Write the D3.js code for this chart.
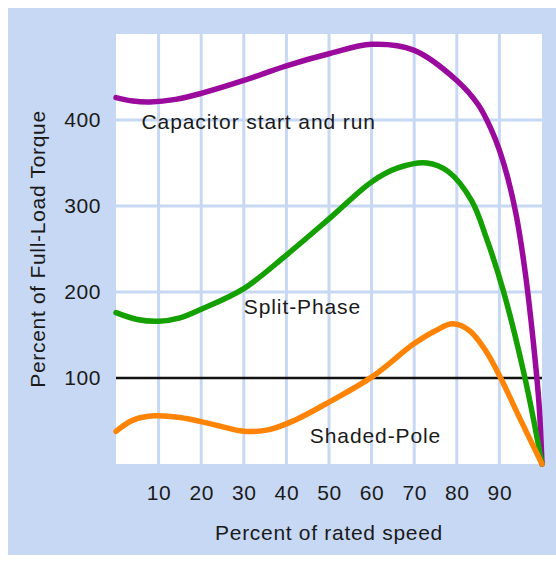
<!DOCTYPE html>
<html>
<head>
<meta charset="utf-8">
<script src="https://cdn.jsdelivr.net/npm/d3@7"></script>
<style>
  body { margin: 0; background: #fff; }
  text { font-family: "Liberation Sans", Arial, sans-serif; fill: #1a1a1a; }
</style>
</head>
<body>
<svg id="chart"></svg>
<script>
// torque curves (percent of rated speed -> percent of full-load torque)
var capacitorX = [0, 4, 8, 14, 20, 30, 40, 50, 60, 70, 80, 85, 88, 90, 92, 94, 96, 98, 99.3, 100];
var capacitorY = [426, 422, 421, 424, 431, 446, 463, 477, 488, 481, 446, 418, 390, 365, 332, 288, 225, 140, 70, 0];

var splitX = [0, 5, 10, 15, 20, 30, 40, 50, 60, 66, 73, 78, 83.5, 87, 91, 96, 100];
var splitY = [176, 168, 166, 170, 180, 204, 243, 285, 328, 344, 350, 340, 306, 262, 200, 100, 0];

var shadedX = [0, 4, 9, 15, 22, 30, 36, 42, 50, 60, 70, 75, 79, 83, 87, 90.3, 95, 100];
var shadedY = [38, 51, 56, 54, 47, 38, 40, 51, 72, 101, 140, 155, 163, 155, 130, 100, 51, 0];

var xTicks = [10, 20, 30, 40, 50, 60, 70, 80, 90];
var yTicks = [100, 200, 300, 400];
var refLine = 100;

var curveNames = ["Capacitor start and run", "Split-Phase", "Shaded-Pole"];

var width = 556, height = 561;
var margin = { top: 34, right: 14, bottom: 97, left: 116 };

var svg = d3.select("#chart").attr("width", width).attr("height", height);

// light blue card behind everything
svg.append("rect")
    .attr("x", 8).attr("y", 8)
    .attr("width", width - 8).attr("height", height - 14)
    .attr("fill", "#c7d8f4");

var x = d3.scaleLinear().domain([0, 100]).range([margin.left, width - margin.right]);
var y = d3.scaleLinear().domain([0, 500]).range([height - margin.bottom, margin.top]);

svg.append("rect")
    .attr("x", x(0)).attr("y", y(500))
    .attr("width", x(100) - x(0)).attr("height", y(0) - y(500))
    .attr("fill", "#fff");

// grid
svg.append("g").selectAll("line")
    .data(xTicks).enter().append("line")
    .attr("x1", d => x(d)).attr("x2", d => x(d))
    .attr("y1", y(0)).attr("y2", y(500))
    .attr("stroke", "#c7d8f4").attr("stroke-width", 3);

svg.append("g").selectAll("line")
    .data(yTicks.filter(d => d != refLine)).enter().append("line")
    .attr("x1", x(0)).attr("x2", x(100))
    .attr("y1", d => y(d)).attr("y2", d => y(d))
    .attr("stroke", "#c7d8f4").attr("stroke-width", 3);

svg.append("line")
    .attr("x1", x(0)).attr("x2", x(100))
    .attr("y1", y(refLine)).attr("y2", y(refLine))
    .attr("stroke", "#111").attr("stroke-width", 2.5);

// axes (labels only, no domain or ticks)
var xAxis = svg.append("g")
    .attr("transform", `translate(0, ${y(0)})`)
    .call(d3.axisBottom(x).tickValues(xTicks).tickSize(0).tickPadding(21));
var yAxis = svg.append("g")
    .attr("transform", `translate(${x(0)}, 0)`)
    .call(d3.axisLeft(y).tickValues(yTicks).tickSize(0).tickPadding(15));
[xAxis, yAxis].forEach(a => {
    a.select(".domain").remove();
    a.selectAll("text").style("font-size", "21px").attr("fill", "#1a1a1a")
        .style("letter-spacing", "0.6px")
        .style("font-family", "'Liberation Sans', Arial, sans-serif");
});

var series = [
    { xs: capacitorX, ys: capacitorY, color: "#9a0a9c" },
    { xs: splitX, ys: splitY, color: "#14a000" },
    { xs: shadedX, ys: shadedY, color: "#ff8406" }
];

var line = d3.line()
    .x(d => x(d[0]))
    .y(d => y(d[1]))
    .curve(d3.curveCatmullRom.alpha(0.5));

svg.append("g").selectAll("path")
    .data(series).enter().append("path")
    .attr("d", s => line(s.xs.map((v, i) => [v, s.ys[i]])))
    .attr("fill", "none")
    .attr("stroke", s => s.color)
    .attr("stroke-width", 5.5)
    .attr("stroke-linecap", "round")
    .attr("stroke-linejoin", "round");

// curve names, placed in data units
var labelPos = [[6, 390], [30, 174], [45.5, 24]];
svg.append("g").selectAll("text")
    .data(curveNames).enter().append("text")
    .attr("x", (d, i) => x(labelPos[i][0]))
    .attr("y", (d, i) => y(labelPos[i][1]))
    .style("font-size", "21px")
    .style("letter-spacing", "0.9px")
    .text(d => d);

svg.append("text")
    .attr("x", (x(0) + x(100)) / 2)
    .attr("y", 540)
    .attr("text-anchor", "middle")
    .style("font-size", "21px")
    .style("letter-spacing", "0.7px")
    .text("Percent of rated speed");

svg.append("text")
    .attr("transform", `translate(45, ${(y(0) + y(500)) / 2}) rotate(-90)`)
    .attr("text-anchor", "middle")
    .style("font-size", "21px")
    .style("letter-spacing", "0.7px")
    .text("Percent of Full-Load Torque");
</script>
</body>
</html>
